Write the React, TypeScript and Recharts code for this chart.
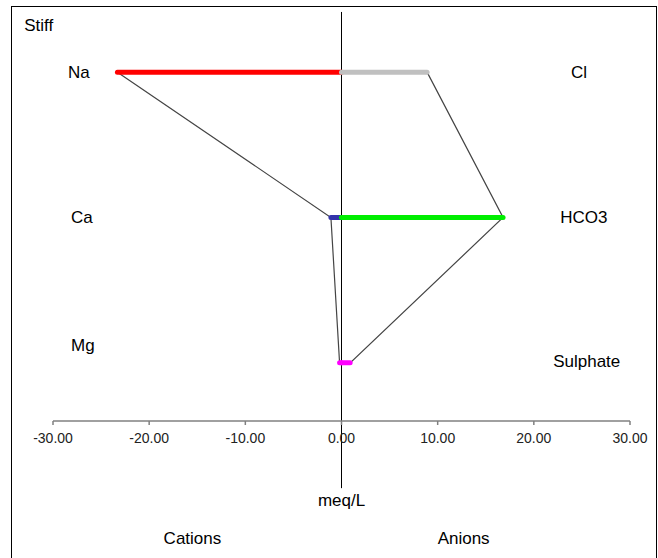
import React from 'react';
import {
  ComposedChart,
  Scatter,
  XAxis,
  YAxis,
  ReferenceLine,
  ReferenceDot,
} from 'recharts';

// Stiff diagram: cations on the left (negative), anions on the right
const cations = ['Na', 'Ca', 'Mg'];
const cationValues = [-23.3, -1.1, -0.2];
const anions = ['Cl', 'HCO3', 'Sulphate'];
const anionValues = [8.9, 16.8, 0.9];
const rows = [3, 2, 1];
const ticks = [-30, -20, -10, 0, 10, 20, 30];

const cationColors = ['#ff0000', '#3333aa', '#ff00ff'];
const anionColors = ['#c0c0c0', '#00ee00', '#ff00ff'];

// label positions in axis units
const ionLabels = [
  { text: 'Na', x: -27.3, y: 3.0 },
  { text: 'Ca', x: -27.0, y: 2.0 },
  { text: 'Mg', x: -26.9, y: 1.12 },
  { text: 'Cl', x: 24.7, y: 3.0 },
  { text: 'HCO3', x: 25.2, y: 2.0 },
  { text: 'Sulphate', x: 25.5, y: 1.01 },
];
const footLabels = [
  { text: 'meq/L', x: 0, y: 0.05 },
  { text: 'Cations', x: -15.5, y: -0.21 },
  { text: 'Anions', x: 12.7, y: -0.21 },
];

const FONT = '"Liberation Sans", Arial, sans-serif';

// polygon: down the cation side, back up the anion side
const outline = [
  ...cationValues.map((v, i) => ({ x: v, y: rows[i] })),
  ...anionValues
    .map((v, i) => ({ x: v, y: rows[i] }))
    .reverse(),
];

const bars = [
  ...cationValues.map((v, i) => ({
    key: cations[i],
    color: cationColors[i],
    points: [
      { x: v, y: rows[i] },
      { x: 0, y: rows[i] },
    ],
  })),
  ...anionValues.map((v, i) => ({
    key: anions[i],
    color: anionColors[i],
    points: [
      { x: 0, y: rows[i] },
      { x: v, y: rows[i] },
    ],
  })),
];

const NoDot = () => <g />;

const textShape = (text: string, anchor = 'middle') => (props: any) => (
  <text
    x={props.cx}
    y={props.cy}
    textAnchor={anchor}
    dominantBaseline="central"
    fontSize={17}
    fontFamily={FONT}
    fill="#000"
  >
    {text}
  </text>
);

export default function App() {
  return (
    <div style={{ position: 'relative', width: 650, height: 550 }}>
      <ComposedChart
        width={650}
        height={550}
        margin={{ top: 6, right: 28, bottom: 107, left: 45 }}
      >
        <XAxis
          type="number"
          dataKey="x"
          domain={[-30, 30]}
          ticks={ticks}
          interval={0}
          height={30}
          tickFormatter={(v: number) => v.toFixed(2)}
          stroke="#808080"
          strokeWidth={1.5}
          tickSize={4}
          tickMargin={8}
          tick={{ fill: '#222', fontSize: 14, fontFamily: FONT }}
        />
        <YAxis type="number" dataKey="y" domain={[0.6, 3.4]} hide />
        <ReferenceLine
          segment={[
            { x: 0, y: 3.414 },
            { x: 0, y: 0.138 },
          ]}
          stroke="#000"
          strokeWidth={1}
          ifOverflow="visible"
        />
        <Scatter
          data={outline}
          line={{ stroke: '#444', strokeWidth: 1.2 }}
          shape={NoDot}
          isAnimationActive={false}
        />
        {bars.map((b) => (
          <Scatter
            key={b.key}
            data={b.points}
            line={{ stroke: b.color, strokeWidth: 5, strokeLinecap: 'round' }}
            shape={NoDot}
            isAnimationActive={false}
          />
        ))}
        <ReferenceDot
          x={-33}
          y={3.324}
          r={0}
          ifOverflow="visible"
          shape={textShape('Stiff', 'start')}
        />
        {[...ionLabels, ...footLabels].map((l) => (
          <ReferenceDot
            key={l.text}
            x={l.x}
            y={l.y}
            r={0}
            ifOverflow="visible"
            shape={textShape(l.text)}
          />
        ))}
      </ComposedChart>
      {/* frame around the figure */}
      <div
        style={{
          position: 'fixed',
          left: 11,
          top: 6,
          width: 646,
          height: 600,
          border: '1px solid #000',
          boxSizing: 'border-box',
          pointerEvents: 'none',
        }}
      />
    </div>
  );
}
